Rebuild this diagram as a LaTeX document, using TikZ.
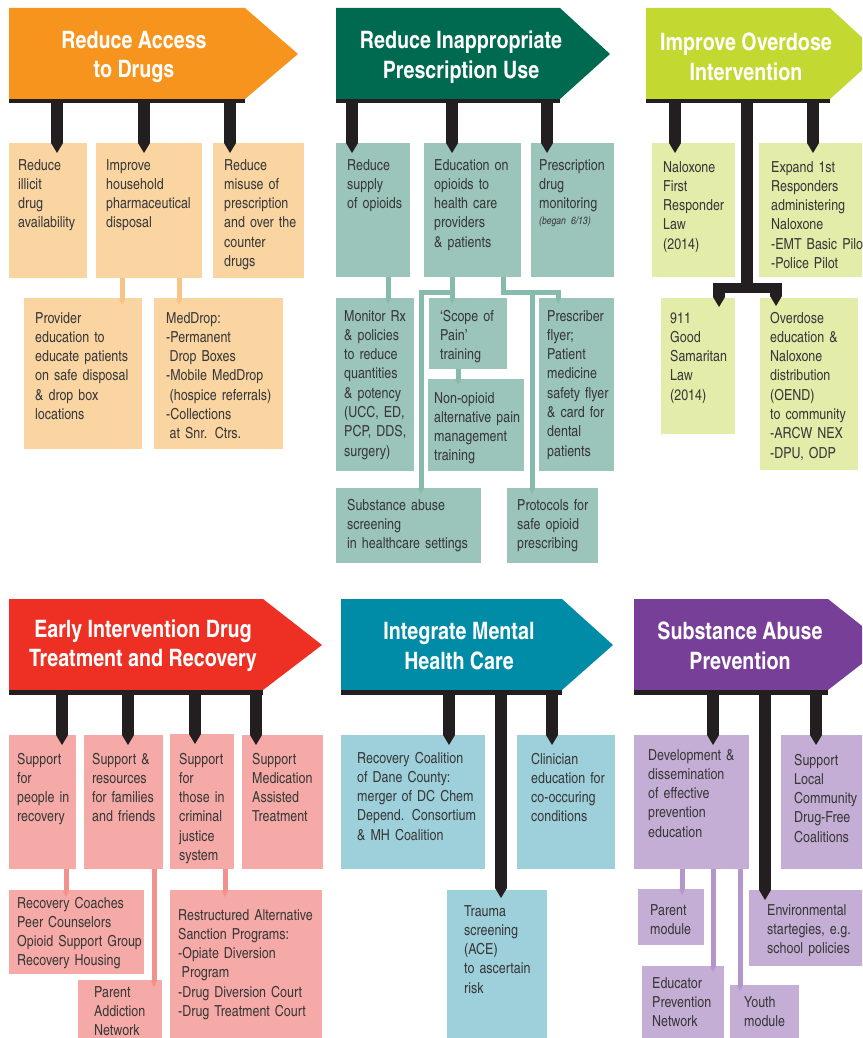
\documentclass[tikz,border=0pt]{standalone}
\usepackage{fontspec}
\setmainfont{texgyreheroscn}[Extension=.otf, UprightFont=*-regular, BoldFont=*-bold, ItalicFont=*-italic, BoldItalicFont=*-bolditalic]
\usetikzlibrary{arrows.meta}

\definecolor{ink}{HTML}{231F20}
\definecolor{txt}{HTML}{383838}
\definecolor{orband}{HTML}{F7941E}
\definecolor{orcell}{HTML}{FAD5A2}
\definecolor{orfeed}{HTML}{F8C386}
\definecolor{grband}{HTML}{006A50}
\definecolor{grcell}{HTML}{9BC4BA}
\definecolor{grfeed}{HTML}{86BAAD}
\definecolor{liband}{HTML}{C3D830}
\definecolor{licell}{HTML}{E4ECAA}
\definecolor{reband}{HTML}{EE3024}
\definecolor{recell}{HTML}{F6AAA7}
\definecolor{refeed}{HTML}{F3918D}
\definecolor{teband}{HTML}{008CA7}
\definecolor{tecell}{HTML}{9ED0DC}
\definecolor{puband}{HTML}{773F98}
\definecolor{pucell}{HTML}{C5AED5}
\definecolor{pufeed}{HTML}{B596CB}

\newcommand\indnt{\hspace*{3.5pt}}

\tikzset{
  cell/.style={anchor=north west, inner sep=0pt, outer sep=0pt},
  body/.style={anchor=base west, inner sep=0pt, text width=170pt, align=left, text=txt, font=\fontsize{15.2}{19.3}\selectfont},
  title/.style={text=white, align=center, inner sep=0pt, font=\fontsize{24}{29.5}\selectfont\bfseries},
  bar/.style={cell, fill=ink, minimum height=4.5pt},
  stem/.style={draw=ink, line width=12pt, -{Triangle[width=12pt,length=10pt,line width=0pt]}},
  stemline/.style={draw=ink, line width=12pt},
  feed/.style={draw=#1, line width=5pt, -{Triangle[width=6pt,length=6pt,line width=0pt]}},
}

\begin{document}
\begin{tikzpicture}[x=1pt,y=-1pt]
\useasboundingbox (0,0) rectangle (862,1038);
\clip (0,0) rectangle (862,1038);
\fill[white] (0,0) rectangle (862,1038);

% banners, top row
\fill[orband] (9,8) -- (245,8) -- (298,54) -- (245,99) -- (9,99) -- cycle;
\node[bar, minimum width=236] (bar1) at (9,99) {};
\node[title] (t1) at (134,57) {Reduce Access\\to Drugs};
\fill[grband] (336,8) -- (560,8) -- (610,54) -- (560,99) -- (336,99) -- cycle;
\node[bar, minimum width=224] (bar2) at (336,99) {};
\node[title] (t2) at (461,57) {Reduce Inappropriate\\Prescription Use};
\fill[liband] (646,8) -- (830,8) -- (880,54) -- (830,99) -- (646,99) -- cycle;
\node[bar, minimum width=184] (bar3) at (646,99) {};
\node[title] (t3) at (746,57) {Improve Overdose\\Intervention};

% banners, bottom row
\fill[reband] (9,599) -- (263,599) -- (322,645) -- (263,690) -- (9,690) -- cycle;
\node[bar, minimum width=254] (bar4) at (9,690) {};
\node[title] (t4) at (143,646) {Early Intervention Drug\\Treatment and Recovery};
\fill[teband] (341,599) -- (562,599) -- (613,645) -- (562,690) -- (341,690) -- cycle;
\node[bar, minimum width=221] (bar5) at (341,690) {};
\node[title] (t5) at (459,646) {Integrate Mental\\Health Care};
\fill[puband] (634,599) -- (828,599) -- (886,645) -- (828,690) -- (634,690) -- cycle;
\node[bar, minimum width=194] (bar6) at (634,690) {};
\node[title] (t6) at (740,646) {Substance Abuse\\Prevention};

% reduce access to drugs
\node[cell, fill=orcell, minimum width=78, minimum height=135] (a1) at (9,143) {};
\node[body] (a1t) at ([shift={(9,27)}]a1.north west) {Reduce\\illicit\\drug\\availability};
\node[cell, fill=orcell, minimum width=106, minimum height=135] (a2) at (96,143) {};
\node[body] (a2t) at ([shift={(10,27)}]a2.north west) {Improve\\household\\pharmaceutical\\disposal};
\node[cell, fill=orcell, minimum width=91, minimum height=135] (a3) at (213,143) {};
\node[body] (a3t) at ([shift={(11,27)}]a3.north west) {Reduce\\misuse of\\prescription\\and over the\\counter\\drugs};
\node[cell, fill=orcell, minimum width=118, minimum height=151] (a4) at (24,298) {};
\node[body] (a4t) at ([shift={(11,25)}]a4.north west) {Provider\\education to\\educate patients\\on safe disposal\\\& drop box\\locations};
\node[cell, fill=orcell, minimum width=129, minimum height=151] (a5) at (154,298) {};
\node[body] (a5t) at ([shift={(12,25)}]a5.north west) {MedDrop:\\-Permanent\\\indnt Drop Boxes\\-Mobile MedDrop\\\indnt(hospice referrals)\\-Collections\\\indnt at Snr. Ctrs.};

\draw[stem] (bar1.south -| 57,0) -- ([yshift=-10pt]a1.north -| 57,0);
\draw[stem] (bar1.south -| 144,0) -- ([yshift=-10pt]a2.north -| 144,0);
\draw[stem] (bar1.south -| 230,0) -- ([yshift=-10pt]a3.north -| 230,0);
\draw[feed=orfeed] (a2.south -| 122,0) -- ([yshift=-7pt]a4.north -| 122,0);
\draw[feed=orfeed] (a2.south -| 179,0) -- ([yshift=-7pt]a5.north -| 179,0);

% reduce inappropriate prescription use
\node[cell, fill=grcell, minimum width=74, minimum height=134] (b1) at (336,143) {};
\node[body] (b1t) at ([shift={(11,27)}]b1.north west) {Reduce\\supply\\of opioids};
\node[cell, fill=grcell, minimum width=97, minimum height=134] (b2) at (424,143) {};
\node[body] (b2t) at ([shift={(10,27)}]b2.north west) {Education on\\opioids to\\health care\\providers\\\& patients};
\node[cell, fill=grcell, minimum width=83, minimum height=134] (b3) at (531,143) {};
\node[body] (b3t) at ([shift={(8,27)}]b3.north west) {Prescription\\drug\\monitoring\\[-3pt]{\fontsize{10.5}{12}\selectfont\itshape (began 6/13)}};
\node[cell, fill=grcell, minimum width=78, minimum height=173] (b4) at (336,298) {};
\node[body] (b4t) at ([shift={(8,23)}]b4.north west) {Monitor Rx\\\& policies\\to reduce\\quantities\\\& potency\\(UCC, ED,\\PCP, DDS,\\surgery)};
\node[cell, fill=grcell, minimum width=78, minimum height=71] (b5) at (429,298) {};
\node[body] (b5t) at ([shift={(11,23)}]b5.north west) {`Scope of\\Pain'\\training};
\node[cell, fill=grcell, minimum width=96, minimum height=92] (b6) at (428,379) {};
\node[body] (b6t) at ([shift={(6,24)}]b6.north west) {Non-opioid\\alternative pain\\management\\training};
\node[cell, fill=grcell, minimum width=75, minimum height=173] (b7) at (539,298) {};
\node[body] (b7t) at ([shift={(8,23)}]b7.north west) {Prescriber\\flyer;\\Patient\\medicine\\safety flyer\\\& card for\\dental\\patients};
\node[cell, fill=grcell, minimum width=145, minimum height=75] (b8) at (336,488) {};
\node[body] (b8t) at ([shift={(11,22)}]b8.north west) {Substance abuse\\screening\\in healthcare settings};
\node[cell, fill=grcell, minimum width=91, minimum height=75] (b9) at (507,488) {};
\node[body] (b9t) at ([shift={(10,22)}]b9.north west) {Protocols for\\safe opioid\\prescribing};

\draw[stem] (bar2.south -| 352,0) -- ([yshift=-10pt]b1.north -| 352,0);
\draw[stem] (bar2.south -| 452,0) -- ([yshift=-10pt]b2.north -| 452,0);
\draw[stem] (bar2.south -| 547,0) -- ([yshift=-10pt]b3.north -| 547,0);
\draw[feed=grfeed] (b1.south -| 388,0) -- ([yshift=-6pt]b4.north -| 388,0);
\draw[feed=grfeed] (b2.south -| 452,0) -- ([yshift=-6pt]b5.north -| 452,0);
\draw[feed=grfeed] (452,292) -- (421,292) -- ([yshift=-6pt]b8.north -| 421,0);
\draw[feed=grfeed] (b2.south -| 503,0) -- (503,292) -- (558,292) -- ([yshift=-6pt]b7.north -| 558,0);
\draw[feed=grfeed] (532,292) -- ([yshift=-6pt]b9.north -| 532,0);
\draw[feed=grfeed] (b5.south -| 458,0) -- ([yshift=-6pt]b6.north -| 458,0);

% improve overdose intervention
\node[cell, fill=licell, minimum width=83, minimum height=134] (c1) at (652,143) {};
\node[body] (c1t) at ([shift={(11,29)}]c1.north west) {Naloxone\\First\\Responder\\Law\\(2014)};
\node[cell, fill=licell, minimum width=130, minimum height=134] (c2) at (759,143) {};
\node[body] (c2t) at ([shift={(12,29)}]c2.north west) {Expand 1st\\Responders\\administering\\Naloxone\\-EMT Basic Pilot\\-Police Pilot};
\node[cell, fill=licell, minimum width=74, minimum height=136] (c3) at (661,298) {};
\node[body] (c3t) at ([shift={(9,25)}]c3.north west) {911\\Good\\Samaritan\\Law\\(2014)};
\node[cell, fill=licell, minimum width=98, minimum height=172] (c4) at (760,298) {};
\node[body] (c4t) at ([shift={(10,25)}]c4.north west) {Overdose\\education \&\\Naloxone\\distribution\\(OEND)\\to community\\-ARCW NEX\\-DPU, ODP};

\coordinate (tee) at (747,288);
\draw[stem] (bar3.south -| 675,0) -- ([yshift=-10pt]c1.north -| 675,0);
\draw[stem] (bar3.south -| 813,0) -- ([yshift=-10pt]c2.north -| 813,0);
\draw[stemline] (bar3.south -| tee) -- ([yshift=-5pt]tee);
\draw[ink, line width=10pt] ([xshift=-34pt]tee) -- ([xshift=35pt]tee);
\draw[stem] (tee -| 719,0) -- ([yshift=-9pt]c3.north -| 719,0);
\draw[stem] (tee -| 776,0) -- ([yshift=-8pt]c4.north -| 776,0);

% early intervention drug treatment and recovery
\node[cell, fill=recell, minimum width=67, minimum height=134] (d1) at (9,735) {};
\node[body] (d1t) at ([shift={(8,29)}]d1.north west) {Support\\for\\people in\\recovery};
\node[cell, fill=recell, minimum width=79, minimum height=134] (d2) at (84,735) {};
\node[body] (d2t) at ([shift={(8,29)}]d2.north west) {Support \&\\resources\\for families\\and friends};
\node[cell, fill=recell, minimum width=64, minimum height=135] (d3) at (170,734) {};
\node[body] (d3t) at ([shift={(9,30)}]d3.north west) {Support\\for\\those in\\criminal\\justice\\system};
\node[cell, fill=recell, minimum width=81, minimum height=134] (d4) at (242,735) {};
\node[body] (d4t) at ([shift={(10,29)}]d4.north west) {Support\\Medication\\Assisted\\Treatment};
\node[cell, fill=recell, minimum width=135, minimum height=84] (d5) at (9,890) {};
\node[body] (d5t) at ([shift={(8,18)}]d5.north west) {Recovery Coaches\\Peer Counselors\\Opioid Support Group\\Recovery Housing};
\node[cell, fill=recell, minimum width=84, minimum height=58] (d6) at (78,980) {};
\node[body] (d6t) at ([shift={(16,17)}]d6.north west) {Parent\\Addiction\\Network};
\node[cell, fill=recell, minimum width=152, minimum height=148] (d7) at (170,890) {};
\node[body] (d7t) at ([shift={(8,30)}]d7.north west) {Restructured Alternative\\Sanction Programs:\\-Opiate Diversion\\\indnt Program\\-Drug Diversion Court\\-Drug Treatment Court};

\draw[stem] (bar4.south -| 62,0) -- ([yshift=-10pt]d1.north -| 62,0);
\draw[stem] (bar4.south -| 128,0) -- ([yshift=-10pt]d2.north -| 128,0);
\draw[stem] (bar4.south -| 195,0) -- ([yshift=-10pt]d3.north -| 195,0);
\draw[stem] (bar4.south -| 256,0) -- ([yshift=-10pt]d4.north -| 256,0);
\draw[feed=refeed] (d1.south -| 66,0) -- ([yshift=-7pt]d5.north -| 66,0);
\draw[feed=refeed] (d2.south -| 154,0) -- ([yshift=-7pt]d6.north -| 154,0);
\draw[feed=refeed] (d3.south -| 225,0) -- ([yshift=-7pt]d7.north -| 225,0);

% integrate mental health care
\node[cell, fill=tecell, minimum width=144, minimum height=134] (e1) at (341,735) {};
\node[body] (e1t) at ([shift={(16,28)}]e1.north west) {Recovery Coalition\\of Dane County:\\merger of DC Chem\\Depend. Consortium\\\& MH Coalition};
\node[cell, fill=tecell, minimum width=98, minimum height=134] (e2) at (517,735) {};
\node[body] (e2t) at ([shift={(14,29)}]e2.north west) {Clinician\\education for\\co-occuring\\conditions};
\node[cell, fill=tecell, minimum width=100, minimum height=148] (e3) at (447,890) {};
\node[body] (e3t) at ([shift={(17,26)}]e3.north west) {Trauma\\screening\\(ACE)\\to ascertain\\risk};

\draw[stem] (bar5.south -| 449,0) -- ([yshift=-10pt]e1.north -| 449,0);
\draw[stem] (bar5.south -| 501,0) -- ([yshift=-8pt]e3.north -| 501,0);
\draw[stem] (bar5.south -| 552,0) -- ([yshift=-10pt]e2.north -| 552,0);

% substance abuse prevention
\node[cell, fill=pucell, minimum width=115, minimum height=134] (f1) at (634,735) {};
\node[body] (f1t) at ([shift={(14,25)}]f1.north west) {Development \&\\dissemination\\of effective\\prevention\\education};
\node[cell, fill=pucell, minimum width=85, minimum height=134] (f2) at (781,735) {};
\node[body] (f2t) at ([shift={(13,30)}]f2.north west) {Support\\Local\\Community\\Drug-Free\\Coalitions};
\node[cell, fill=pucell, minimum width=66, minimum height=56] (f3) at (638,889) {};
\node[body] (f3t) at ([shift={(12,26)}]f3.north west) {Parent\\module};
\node[cell, fill=pucell, minimum width=115, minimum height=76] (f4) at (749,890) {};
\node[body] (f4t) at ([shift={(18,25)}]f4.north west) {Environmental\\startegies, e.g.\\school policies};
\node[cell, fill=pucell, minimum width=82, minimum height=72] (f5) at (642,966) {};
\node[body] (f5t) at ([shift={(10,22)}]f5.north west) {Educator\\Prevention\\Network};
\node[cell, fill=pucell, minimum width=69, minimum height=53] (f6) at (730,985) {};
\node[body] (f6t) at ([shift={(14,22)}]f6.north west) {Youth\\module};

\draw[stem] (bar6.south -| 713,0) -- ([yshift=-10pt]f1.north -| 713,0);
\draw[stem] (bar6.south -| 765,0) -- ([yshift=-10pt]f4.north -| 765,0);
\draw[stem] (bar6.south -| 816,0) -- ([yshift=-10pt]f2.north -| 816,0);
\draw[feed=pufeed] (f1.south -| 682,0) -- ([yshift=-6pt]f3.north -| 682,0);
\draw[feed=pufeed] (f1.south -| 713,0) -- ([yshift=-6pt]f5.north -| 713,0);
\draw[feed=pufeed] (f1.south -| 740,0) -- ([yshift=-6pt]f6.north -| 740,0);
\end{tikzpicture}
\end{document}
